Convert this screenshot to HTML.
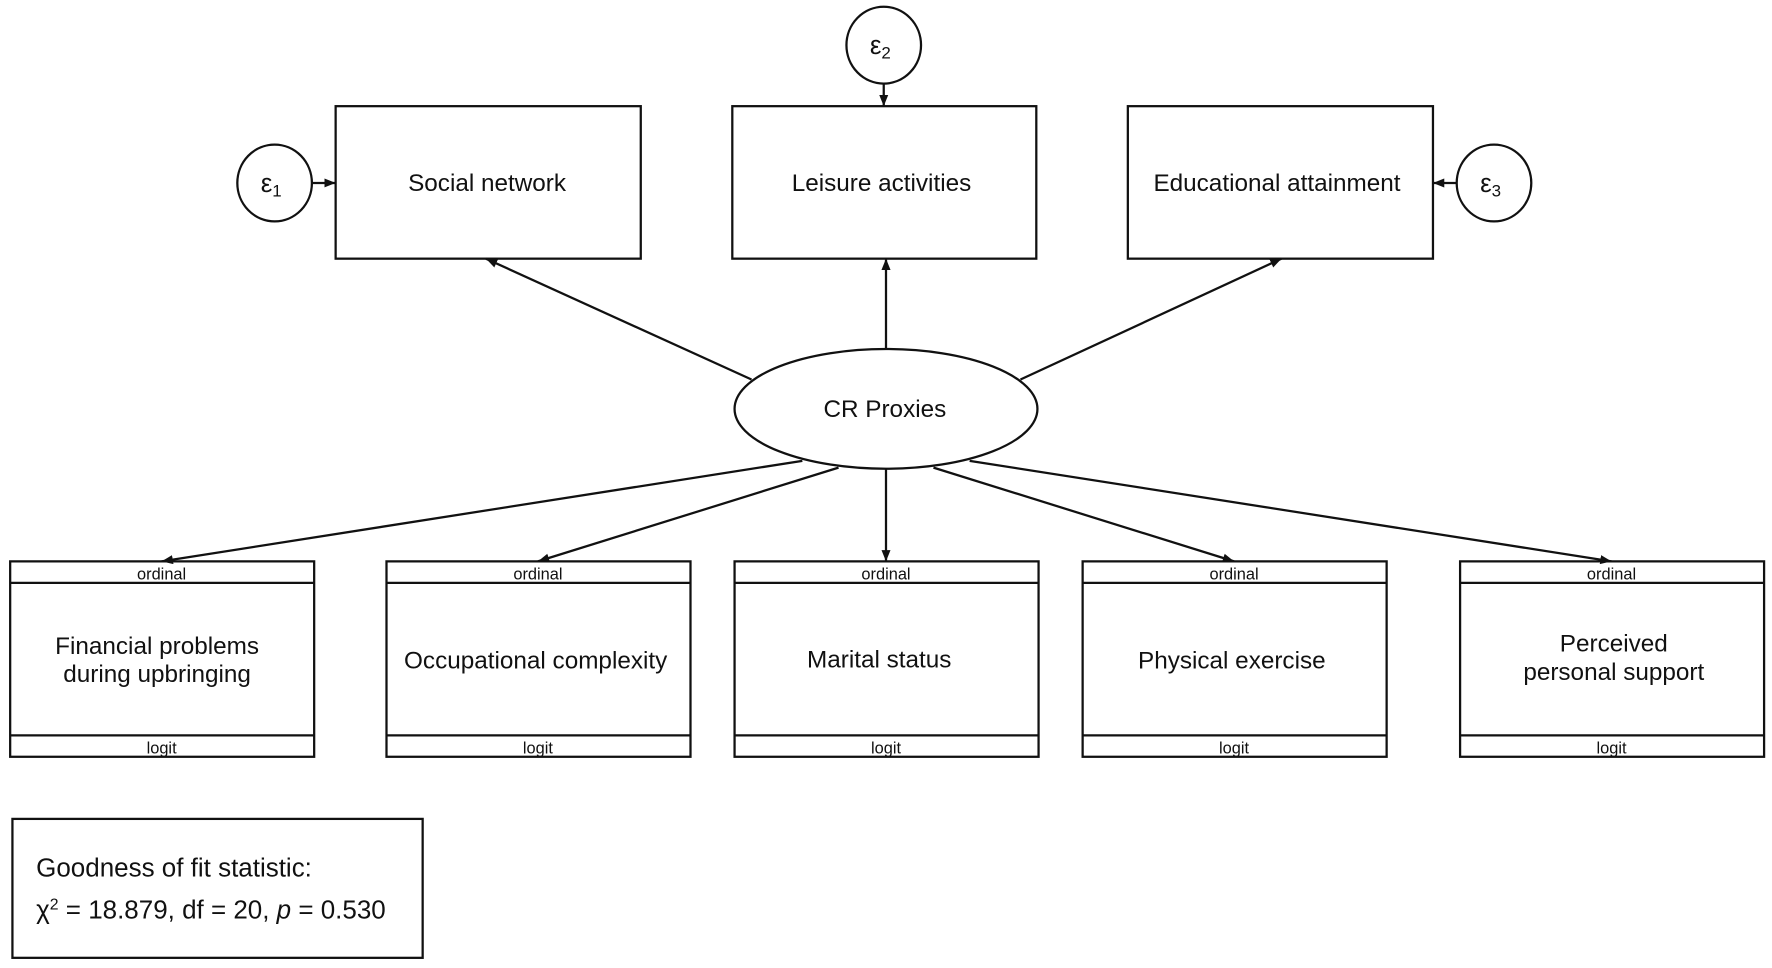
<!DOCTYPE html>
<html><head><meta charset="utf-8"><style>
html,body{margin:0;padding:0;background:#fff;}
svg{display:block;}
text{font-family:"Liberation Sans",Arial,sans-serif;fill:#111;}
</style></head><body>
<svg width="1772" height="968" viewBox="0 0 1568 857" preserveAspectRatio="none" xmlns="http://www.w3.org/2000/svg">
<defs><marker id="a" markerWidth="10" markerHeight="8" refX="10" refY="4" orient="auto" markerUnits="userSpaceOnUse"><path d="M0,0 L10,4 L0,8 z" fill="#111"/></marker></defs>
<g stroke="#111" stroke-width="2" fill="none">
<rect x="297" y="94" width="270" height="135"/>
<rect x="648" y="94" width="269" height="135"/>
<rect x="998" y="94" width="270" height="135"/>
<ellipse cx="243" cy="162" rx="33" ry="34"/>
<ellipse cx="782" cy="40" rx="33" ry="34"/>
<ellipse cx="1322" cy="162" rx="33" ry="34"/>
<ellipse cx="784" cy="362" rx="134" ry="53"/>
<line x1="276" y1="162" x2="297" y2="162" marker-end="url(#a)"/>
<line x1="782" y1="74" x2="782" y2="94" marker-end="url(#a)"/>
<line x1="1289" y1="162" x2="1268" y2="162" marker-end="url(#a)"/>
<line x1="665" y1="336" x2="430" y2="229" marker-end="url(#a)"/>
<line x1="784" y1="309" x2="784" y2="229" marker-end="url(#a)"/>
<line x1="903" y1="336" x2="1134" y2="229" marker-end="url(#a)"/>
<line x1="710" y1="408" x2="143" y2="497" marker-end="url(#a)"/>
<line x1="742" y1="414" x2="476" y2="497" marker-end="url(#a)"/>
<line x1="784" y1="415" x2="784" y2="497" marker-end="url(#a)"/>
<line x1="826" y1="414" x2="1092" y2="497" marker-end="url(#a)"/>
<line x1="858" y1="408" x2="1426" y2="497" marker-end="url(#a)"/>
<g id="b">
<rect x="9" y="497" width="269" height="173"/>
<line x1="9" y1="516" x2="278" y2="516"/>
<line x1="9" y1="651" x2="278" y2="651"/>
</g>
<use href="#b" x="333"/>
<use href="#b" x="641"/>
<use href="#b" x="949"/>
<use href="#b" x="1283"/>
<rect x="11" y="725" width="363" height="123"/>
</g>
<g font-size="21.5" text-anchor="middle">
<text x="431" y="169">Social network</text>
<text x="780" y="169">Leisure activities</text>
<text x="1130" y="169">Educational attainment</text>
<text x="783" y="369">CR Proxies</text>
<text x="139" y="579">Financial problems</text>
<text x="139" y="604">during upbringing</text>
<text x="474" y="592">Occupational complexity</text>
<text x="778" y="591">Marital status</text>
<text x="1090" y="592">Physical exercise</text>
<text x="1428" y="577">Perceived</text>
<text x="1428" y="602">personal support</text>
</g>
<g font-size="23" text-anchor="middle">
<text x="240" y="170">ε<tspan font-size="15" dy="4">1</tspan></text>
<text x="779" y="48">ε<tspan font-size="15" dy="4">2</tspan></text>
<text x="1319" y="170">ε<tspan font-size="15" dy="4">3</tspan></text>
</g>
<g font-size="14.5" text-anchor="middle">
<text x="143" y="513">ordinal</text><text x="143" y="667">logit</text>
<text x="476" y="513">ordinal</text><text x="476" y="667">logit</text>
<text x="784" y="513">ordinal</text><text x="784" y="667">logit</text>
<text x="1092" y="513">ordinal</text><text x="1092" y="667">logit</text>
<text x="1426" y="513">ordinal</text><text x="1426" y="667">logit</text>
</g>
<g font-size="23">
<text x="32" y="776">Goodness of fit statistic:</text>
<text x="32" y="813">χ<tspan font-size="14" dy="-8">2</tspan><tspan dy="8"> = 18.879, df = 20, </tspan><tspan font-style="italic">p</tspan> = 0.530</text>
</g>
</svg>
</body></html>
